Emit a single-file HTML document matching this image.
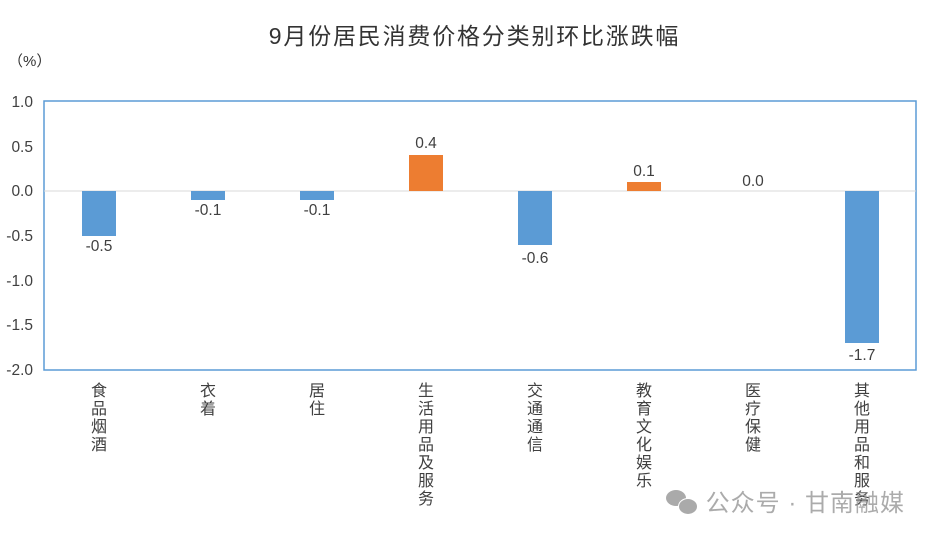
<!DOCTYPE html><html><head><meta charset="utf-8"><style>
body{margin:0;background:#fff;width:949px;height:538px;overflow:hidden;position:relative;font-family:"Liberation Sans","Noto Sans CJK SC",sans-serif;}
.t{position:absolute;left:0;width:949px;top:17px;text-align:center;font-size:23px;letter-spacing:1.8px;color:#333;}
.v{position:absolute;font-size:16px;line-height:18px;color:#404040;width:20px;text-align:center;}
</style></head><body>
<div class="t">9月份居民消费价格分类别环比涨跌幅</div>
<div style="position:absolute;left:8px;top:50px;font-size:15px;color:#333">（%）</div>
<svg width="949" height="538" style="position:absolute;left:0;top:0" font-family="Liberation Sans, sans-serif">
<rect x="44" y="101" width="872" height="269" fill="none" stroke="#5b9bd5" stroke-width="1.5"/>
<line x1="44" y1="191" x2="916" y2="191" stroke="#d9d9d9" stroke-width="1"/>
<g font-size="15.5" fill="#404040" text-anchor="end">
<text x="33" y="107">1.0</text><text x="33" y="152">0.5</text><text x="33" y="196">0.0</text>
<text x="33" y="241">-0.5</text><text x="33" y="286">-1.0</text><text x="33" y="330">-1.5</text><text x="33" y="375">-2.0</text>
</g>
<g fill="#5b9bd5">
<rect x="82" y="191" width="34" height="45"/>
<rect x="191" y="191" width="34" height="9"/>
<rect x="300" y="191" width="34" height="9"/>
<rect x="518" y="191" width="34" height="54"/>
<rect x="845" y="191" width="34" height="152"/>
</g>
<g fill="#ed7d31">
<rect x="409" y="155" width="34" height="36"/>
<rect x="627" y="182" width="34" height="9"/>
</g>
<g font-size="15.5" fill="#404040" text-anchor="middle">
<text x="99" y="251">-0.5</text><text x="208" y="215">-0.1</text><text x="317" y="215">-0.1</text>
<text x="426" y="148">0.4</text><text x="535" y="263">-0.6</text><text x="644" y="176">0.1</text>
<text x="753" y="186">0.0</text><text x="862" y="360">-1.7</text>
</g>
</svg>
<div class="v" style="left:89px;top:383px">食品烟酒</div>
<div class="v" style="left:198px;top:383px">衣着</div>
<div class="v" style="left:307px;top:383px">居住</div>
<div class="v" style="left:416px;top:383px">生活用品及服务</div>
<div class="v" style="left:525px;top:383px">交通通信</div>
<div class="v" style="left:634px;top:383px">教育文化娱乐</div>
<div class="v" style="left:743px;top:383px">医疗保健</div>
<div class="v" style="left:852px;top:383px">其他用品和服务</div>
<div style="position:absolute;left:666px;top:483px;font-size:24px;letter-spacing:1px;color:rgba(150,150,150,0.8);white-space:nowrap">
<span style="display:inline-block;width:32px;height:24px;vertical-align:-3px;position:relative"><span style="position:absolute;left:0;top:0;width:20px;height:16px;border-radius:50%;background:#aaa"></span><span style="position:absolute;left:12px;top:8px;width:18px;height:15px;border-radius:50%;background:#aaa;border:1px solid #fff"></span></span> 公众号 · 甘南融媒</div>
</body></html>
